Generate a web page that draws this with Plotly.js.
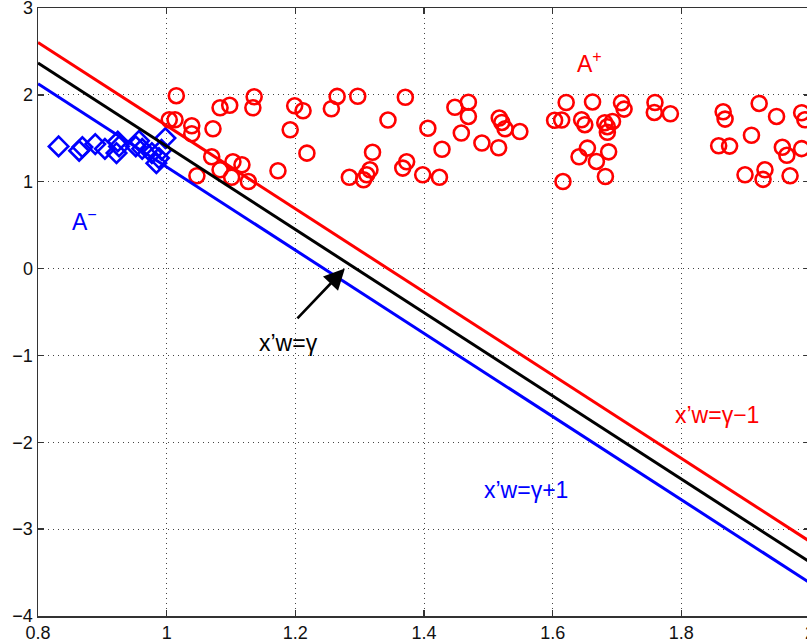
<!DOCTYPE html>
<html>
<head>
<meta charset="utf-8">
<script src="https://cdn.plot.ly/plotly-3.0.1.min.js"></script>
<style>
html,body{margin:0;padding:0;overflow:hidden;background:#fff;}
#chart{width:810px;height:642px;}
</style>
</head>
<body>
<div id="chart"></div>
<script>
// Class A- (blue diamonds)
const negX = [0.832,0.864,0.869,0.889,0.904,0.922,0.924,0.926,0.957,0.952,0.962,0.977,0.988,0.984,0.998,0.992];
const negY = [1.406,1.356,1.399,1.433,1.379,1.330,1.463,1.406,1.471,1.406,1.379,1.330,1.272,1.214,1.502,1.367];

// Class A+ (red circles)
const posX = [1.015,1.004,1.013,1.039,1.039,1.072,1.083,1.098,1.136,1.134,1.070,1.047,1.083,1.103,1.117,1.101,1.127,
  1.199,1.212,1.192,1.265,1.256,1.297,1.371,1.344,1.406,1.218,1.320,1.173,1.284,1.306,1.311,1.316,1.367,1.373,1.398,1.424,1.428,
  1.448,1.469,1.469,1.458,1.490,1.516,1.517,1.521,1.526,1.549,1.603,1.614,1.621,1.662,1.645,1.650,1.616,1.641,1.654,1.668,1.687,1.682,1.681,1.685,1.685,1.693,1.707,1.711,
  1.759,1.758,1.783,1.865,1.868,1.921,1.948,1.909,1.858,1.875,1.957,1.964,1.987,1.987,1.992,1.899,1.930,1.927,1.969];
const posY = [1.990,1.713,1.713,1.644,1.552,1.609,1.851,1.880,1.978,1.851,1.287,1.068,1.137,1.229,1.195,1.051,1.002,
  1.874,1.817,1.598,1.982,1.840,1.984,1.972,1.710,1.615,1.329,1.339,1.126,1.051,1.022,1.080,1.137,1.157,1.229,1.080,1.051,1.373,
  1.857,1.915,1.751,1.560,1.445,1.391,1.733,1.682,1.609,1.578,1.707,1.710,1.912,1.918,1.713,1.656,1.002,1.287,1.387,1.233,1.344,1.060,1.679,1.633,1.569,1.694,1.909,1.836,
  1.912,1.797,1.782,1.805,1.721,1.901,1.751,1.535,1.414,1.410,1.396,1.304,1.381,1.794,1.713,1.080,1.137,1.027,1.068];

// Separating lines (endpoints)
const lineX = [0.8, 2.0];
const planeY = [2.366, -3.381];      // x'w = gamma
const planeMinusY = [2.604, -3.143]; // x'w = gamma - 1
const planePlusY = [2.128, -3.619];  // x'w = gamma + 1

const xTicks = [0.8, 1, 1.2, 1.4, 1.6, 1.8, 2];
const yTicks = [-4, -3, -2, -1, 0, 1, 2, 3];

const FONT = 'Liberation Sans, Arial, Helvetica, sans-serif';

const traces = [
  {x: negX, y: negY, type: 'scatter', mode: 'markers',
   marker: {symbol: 'diamond-open', size: 15, color: '#0000ff', line: {width: 2.6, color: '#0000ff'}}},
  {x: posX, y: posY, type: 'scatter', mode: 'markers',
   marker: {symbol: 'circle-open', size: 15, color: '#ff0000', line: {width: 2.6, color: '#ff0000'}}},
  {x: lineX, y: planeMinusY, type: 'scatter', mode: 'lines', line: {color: '#ff0000', width: 3}},
  {x: lineX, y: planeY, type: 'scatter', mode: 'lines', line: {color: '#000000', width: 3}},
  {x: lineX, y: planePlusY, type: 'scatter', mode: 'lines', line: {color: '#0000ff', width: 3}}
];

const axisCommon = {
  showgrid: true, gridcolor: '#444', griddash: '1px,4px', gridwidth: 1,
  zeroline: false, showline: true, linecolor: '#333', linewidth: 1.5, mirror: 'ticks',
  ticks: 'inside', ticklen: 6, tickwidth: 1.5, tickcolor: '#333',
  ticklabeloverflow: 'allow',
  tickfont: {family: FONT, size: 18, color: '#111'}, tickmode: 'array'
};

const layout = {
  width: 810, height: 642,
  margin: {l: 38, r: 0, t: 8, b: 26},
  paper_bgcolor: '#fff', plot_bgcolor: '#fff',
  showlegend: false,
  xaxis: Object.assign({}, axisCommon, {range: [0.8, 2], tickvals: xTicks, ticktext: xTicks.map(String)}),
  yaxis: Object.assign({}, axisCommon, {range: [-4, 3], tickvals: yTicks}),
  annotations: [
    {x: 1.658, y: 2.38, xref: 'x', yref: 'y', text: 'A<sup>+</sup>', showarrow: false,
     font: {family: FONT, size: 23, color: '#ff0000'}},
    {x: 0.873, y: 0.56, xref: 'x', yref: 'y', text: 'A<sup>−</sup>', showarrow: false,
     font: {family: FONT, size: 23, color: '#0000ff'}},
    {x: 1.190, y: -0.86, xref: 'x', yref: 'y', text: 'x’w=γ', showarrow: false,
     font: {family: FONT, size: 23, color: '#000000'}},
    {x: 1.855, y: -1.69, xref: 'x', yref: 'y', text: 'x’w=γ−1', showarrow: false,
     font: {family: FONT, size: 23, color: '#ff0000'}},
    {x: 1.559, y: -2.55, xref: 'x', yref: 'y', text: 'x’w=γ+1', showarrow: false,
     font: {family: FONT, size: 23, color: '#0000ff'}},
    {x: 1.277, y: 0.0, xref: 'x', yref: 'y', ax: 1.201, ay: -0.59, axref: 'x', ayref: 'y',
     text: '', showarrow: true, arrowhead: 2, arrowsize: 1.6, arrowwidth: 2.6, arrowcolor: '#000000', standoff: 0, startstandoff: 0}
  ]
};

Plotly.newPlot('chart', traces, layout, {displayModeBar: false, staticPlot: true});
</script>
</body>
</html>
